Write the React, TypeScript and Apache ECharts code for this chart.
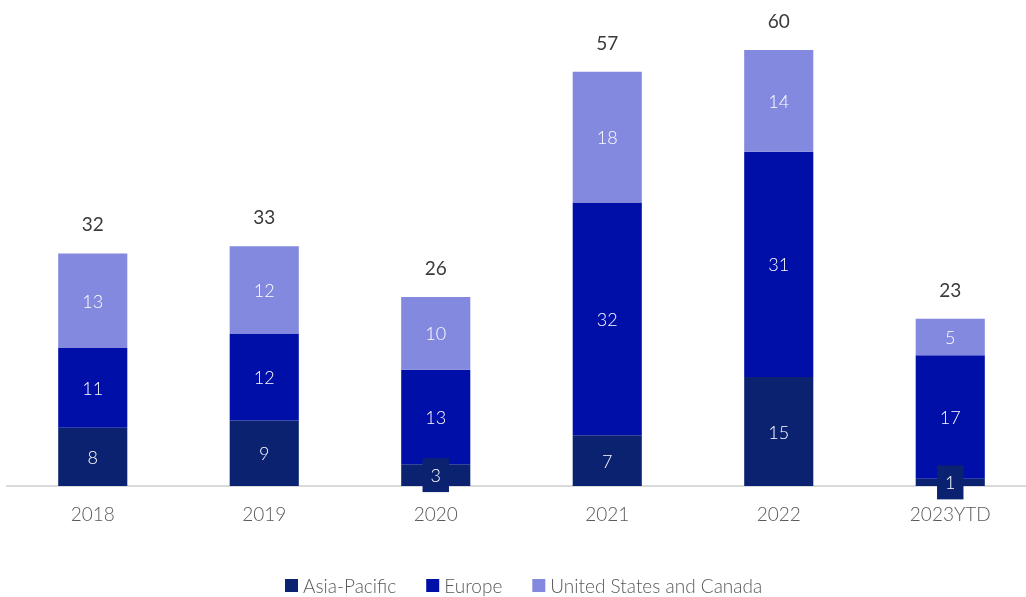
import React, { useEffect, useRef } from "react";
import * as echarts from "echarts";

const categories = ["2018", "2019", "2020", "2021", "2022", "2023YTD"];
const asiaPacific = [8, 9, 3, 7, 15, 1];
const europe = [11, 12, 13, 32, 31, 17];
const usCanada = [13, 12, 10, 18, 14, 5];
const totals = [32, 33, 26, 57, 60, 23];

const FONT = "Lato";

export default function App() {
  const ref = useRef<HTMLDivElement>(null);
  useEffect(() => {
    if (!ref.current) return;
    const chart = echarts.init(ref.current, undefined, { renderer: "svg" });
    const innerLabel = {
      show: true,
      position: "inside",
      color: "#ffffff",
      fontFamily: FONT,
      fontWeight: 300,
      fontSize: 18,
    };
    chart.setOption({
      animation: false,
      grid: { left: 7, right: 0, top: 50, bottom: 111, containLabel: false },
      xAxis: {
        type: "category",
        data: categories,
        axisLine: { lineStyle: { color: "#d9d9d9", width: 2 } },
        axisTick: { show: false },
        axisLabel: {
          color: "#595959",
          fontFamily: FONT,
          fontWeight: 300,
          fontSize: 19,
          margin: 18,
        },
      },
      yAxis: {
        type: "value",
        min: 0,
        max: 60,
        show: false,
        splitLine: { show: false },
      },
      legend: {
        data: ["Asia-Pacific", "Europe", "United States and Canada"],
        bottom: -3,
        left: 280,
        icon: "rect",
        itemWidth: 13,
        itemHeight: 13,
        itemGap: 30,
        textStyle: { color: "#595959", fontFamily: FONT, fontWeight: 300, fontSize: 19 },
      },
      series: [
        {
          name: "Asia-Pacific",
          type: "bar",
          stack: "total",
          barWidth: "40.3%",
          data: asiaPacific,
          itemStyle: { color: "#0b2270" },
          label: {
            ...innerLabel,
            backgroundColor: "#0b2270",
            padding: [8, 8, 8, 8],
          },
        },
        {
          name: "Europe",
          type: "bar",
          stack: "total",
          data: europe,
          itemStyle: { color: "#000fa8" },
          label: innerLabel,
        },
        {
          name: "United States and Canada",
          type: "bar",
          stack: "total",
          data: usCanada,
          itemStyle: { color: "#8289de" },
          label: innerLabel,
        },
        {
          name: "Total",
          type: "bar",
          stack: "total",
          data: totals.map(() => 0),
          itemStyle: { color: "transparent" },
          label: {
            show: true,
            position: "top",
            distance: 20,
            color: "#3a3a3a",
            fontFamily: FONT,
            fontWeight: 400,
            fontSize: 19,
            formatter: (p: any) => String(totals[p.dataIndex]),
          },
        },
      ],
    });
    return () => chart.dispose();
  }, []);
  return (
    <div
      ref={ref}
      style={{ position: "fixed", left: 0, top: 0, width: 1036, height: 597 }}
    />
  );
}
